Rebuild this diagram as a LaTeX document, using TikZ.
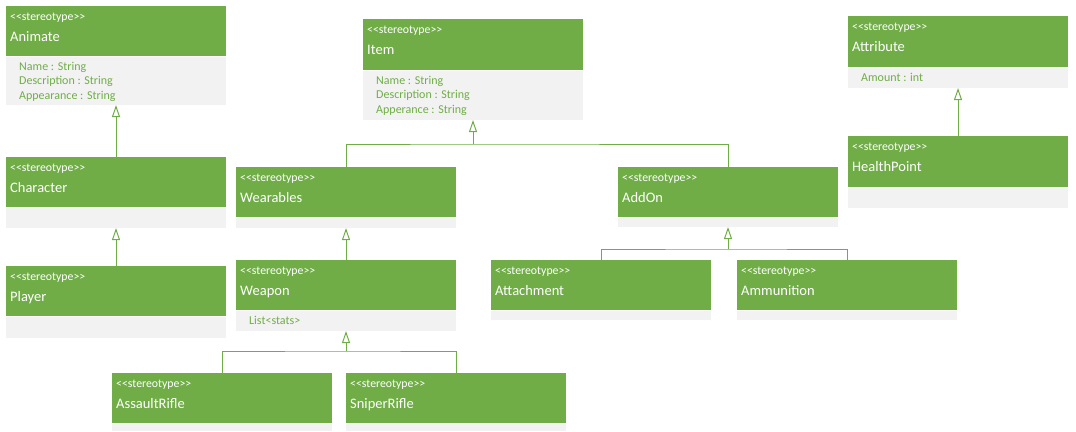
\documentclass[tikz,border=0pt]{standalone}
\usepackage{fontspec}
\setmainfont{Carlito}
\usetikzlibrary{arrows.meta}
\definecolor{umlgreen}{HTML}{70AD47}
\definecolor{umlgray}{HTML}{F2F2F2}
\newcommand\stereo{<\kern0pt<stereotype>\kern0pt>}
\tikzset{
 hd/.style={fill=umlgreen, inner sep=0pt, outer sep=0pt, anchor=north west},
 bd/.style={fill=umlgray, inner sep=0pt, outer sep=0pt, anchor=north west},
 stereotxt/.style={text=white, font=\fontsize{11.8}{13}\selectfont, inner sep=0pt, anchor=base west},
 titletxt/.style={text=white, font=\fontsize{14.5}{16}\selectfont, inner sep=0pt, anchor=base west},
 attrtxt/.style={text=umlgreen, font=\fontsize{12}{14}\selectfont, inner sep=0pt, anchor=base west},
 conn/.style={draw=umlgreen, line width=1pt},
 inh/.style={conn, -{Triangle[open, length=12pt, width=8pt]}},
}
% #1 name, #2 x1, #3 x2, #4 ytop, #5 ysplit, #6 ybottom, #7 title
\newcommand\umlclass[7]{%
  \node[hd, minimum width={(#3)-(#2)}, minimum height={(#5)-(#4)}] (#1) at (#2,#4) {};
  \node[bd, minimum width={(#3)-(#2)}, minimum height={(#6)-(#5)-1}] (#1b) at (#2,#5+1) {};
  \node[stereotxt] (#1s) at ([xshift=4pt,yshift=-14pt]#1.north west) {\stereo};
  \node[titletxt] (#1t) at ([xshift=4pt,yshift=-35.7pt]#1.north west) {#7};
}
\newcommand\umlattrs[2]{%
  \foreach \a [count=\i] in {#2} {
    \node[attrtxt] (#1a\i) at ([xshift=13pt,yshift={-13pt-14.5pt*(\i-1)}]#1b.north west) {\a};
  }
}
\begin{document}
\begin{tikzpicture}[x=1pt, y=-1pt]
\useasboundingbox (0,0) rectangle (1076,431);
\umlclass{animate}{6}{226}{6}{56}{105}{Animate}
\umlattrs{animate}{Name : String, Description : String, Appearance : String}
\umlclass{character}{6}{226}{157}{207}{228}{Character}
\umlclass{player}{6}{226}{266}{316}{338}{Player}
\umlclass{item}{363}{583}{19}{70}{120}{Item}
\umlattrs{item}{Name : String, Description : String, Apperance : String}
\umlclass{wearables}{236}{456}{167}{217}{228}{Wearables}
\umlclass{weapon}{236}{456}{260}{310}{331}{Weapon}
\umlattrs{weapon}{List<stats>}
\umlclass{assaultrifle}{112}{332}{373}{423}{431}{AssaultRifle}
\umlclass{sniperrifle}{346}{566}{373}{423}{431}{SniperRifle}
\umlclass{addon}{618}{838}{167}{217}{227}{AddOn}
\umlclass{attachment}{491}{711}{260}{310}{320}{Attachment}
\umlclass{ammunition}{737}{957}{260}{310}{320}{Ammunition}
\umlclass{attribute}{848}{1068}{16}{67}{88}{Attribute}
\umlattrs{attribute}{Amount : int}
\umlclass{healthpoint}{848}{1068}{136}{187}{208}{HealthPoint}

\draw[inh] (character.north) -- (animateb.south);
\draw[inh] (player.north) -- (characterb.south);
\draw[inh] (healthpoint.north) -- (attributeb.south);
\draw[inh] (weapon.north) -- (wearablesb.south);

\coordinate (itemj) at (473,144);
\draw[conn] (wearables.north) |- (itemj) -| (addon.north);
\draw[inh] (itemj) -- (itemb.south);

\coordinate (addonj) at (728,249);
\draw[conn] (attachment.north) |- (addonj) -| (ammunition.north);
\draw[inh] (addonj) -- (addonb.south);

\coordinate (weaponj) at (346,351);
\draw[conn] (assaultrifle.north) |- (weaponj) -| (sniperrifle.north);
\draw[inh] (weaponj) -- (weaponb.south);
\end{tikzpicture}
\end{document}
